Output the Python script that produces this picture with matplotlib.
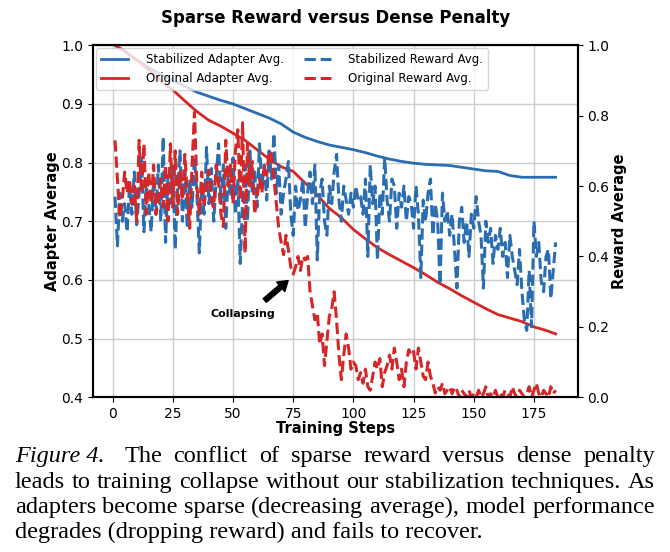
import numpy as np
import matplotlib.pyplot as plt

# training steps for the noisy reward curves (one value per step)
steps = np.arange(1, 185)

# stabilized reward avg (right axis)
stab_reward = [
    0.57, 0.43, 0.58, 0.50, 0.55, 0.47, 0.60, 0.52, 0.64, 0.49,
    0.58, 0.68, 0.47, 0.60, 0.55, 0.47, 0.62, 0.52, 0.66, 0.50,
    0.74, 0.44, 0.63, 0.55, 0.66, 0.42, 0.60, 0.70, 0.50, 0.64,
    0.48, 0.62, 0.54, 0.68, 0.58, 0.41, 0.60, 0.52, 0.71, 0.55,
    0.65, 0.50, 0.62, 0.72, 0.55, 0.66, 0.48, 0.63, 0.57, 0.68,
    0.52, 0.62, 0.38, 0.56, 0.66, 0.50, 0.70, 0.58, 0.64, 0.54,
    0.72, 0.60, 0.66, 0.56, 0.70, 0.62, 0.75, 0.58, 0.66, 0.52,
    0.58, 0.62, 0.67, 0.52, 0.46, 0.60, 0.53, 0.56, 0.62, 0.48,
    0.58, 0.64, 0.55, 0.66, 0.39, 0.58, 0.62, 0.50, 0.46, 0.60,
    0.55, 0.64, 0.69, 0.56, 0.50, 0.60, 0.56, 0.52, 0.58, 0.54,
    0.60, 0.56, 0.57, 0.52, 0.62, 0.40, 0.66, 0.55, 0.60, 0.39,
    0.58, 0.52, 0.68, 0.56, 0.50, 0.62, 0.60, 0.48, 0.58, 0.54,
    0.60, 0.50, 0.57, 0.55, 0.48, 0.60, 0.52, 0.34, 0.56, 0.50,
    0.58, 0.62, 0.46, 0.55, 0.50, 0.32, 0.58, 0.50, 0.53, 0.46,
    0.52, 0.42, 0.31, 0.50, 0.54, 0.44, 0.50, 0.40, 0.52, 0.48,
    0.57, 0.50, 0.46, 0.31, 0.50, 0.44, 0.48, 0.38, 0.46, 0.42,
    0.48, 0.40, 0.44, 0.34, 0.46, 0.40, 0.36, 0.32, 0.42, 0.30,
    0.22, 0.19, 0.36, 0.20, 0.50, 0.40, 0.44, 0.33, 0.30, 0.40,
    0.42, 0.28, 0.36, 0.44,
]

# original reward avg (right axis)
orig_reward = [
    0.73, 0.62, 0.51, 0.56, 0.64, 0.58, 0.62, 0.55, 0.60, 0.50,
    0.73, 0.58, 0.72, 0.52, 0.64, 0.55, 0.66, 0.52, 0.56, 0.62,
    0.54, 0.66, 0.50, 0.72, 0.54, 0.70, 0.52, 0.64, 0.56, 0.69,
    0.58, 0.48, 0.66, 0.81, 0.60, 0.52, 0.64, 0.55, 0.60, 0.645,
    0.56, 0.54, 0.66, 0.61, 0.52, 0.485, 0.73, 0.60, 0.66, 0.55,
    0.70, 0.76, 0.56, 0.78, 0.41, 0.72, 0.60, 0.67, 0.52, 0.57,
    0.62, 0.58, 0.66, 0.63, 0.70, 0.69, 0.62, 0.55, 0.48, 0.44,
    0.405, 0.46, 0.42, 0.37, 0.35, 0.37, 0.40, 0.36, 0.40, 0.39,
    0.40, 0.30, 0.26, 0.22, 0.24, 0.15, 0.18, 0.09, 0.16, 0.23,
    0.25, 0.30, 0.22, 0.12, 0.05, 0.12, 0.18, 0.14, 0.08, 0.10,
    0.09, 0.05, 0.07, 0.04, 0.08, 0.03, 0.02, 0.06, 0.10, 0.08,
    0.11, 0.03, 0.07, 0.09, 0.12, 0.08, 0.14, 0.10, 0.05, 0.08,
    0.03, 0.10, 0.135, 0.12, 0.13, 0.08, 0.14, 0.10, 0.06, 0.05,
    0.10, 0.06, 0.04, 0.012, 0.03, 0.02, 0.04, 0.01, 0.02, 0.03,
    0.01, 0.03, 0.02, 0.00, 0.02, 0.01, 0.00, 0.02, 0.00, 0.01,
    0.00, 0.02, 0.00, 0.01, 0.03, 0.00, 0.01, 0.00, 0.02, 0.00,
    0.01, 0.00, 0.02, 0.01, 0.00, 0.03, 0.01, 0.00, 0.02, 0.01,
    0.00, 0.01, 0.03, 0.00, 0.02, 0.04, 0.01, 0.00, 0.02, 0.01,
    0.00, 0.03, 0.01, 0.02,
]

# adapter averages (left axis), read every 5 steps
adapter_steps = [1, 5, 10, 15, 20, 25, 30, 35, 40, 45, 50, 55, 60, 65, 70, 75, 80, 85, 90,
                 95, 100, 105, 110, 115, 120, 125, 130, 135, 140, 145, 150, 155, 160, 165,
                 170, 175, 180, 184]
stab_adapter = [1.0, 0.99, 0.975, 0.962, 0.950, 0.940, 0.930, 0.920, 0.913, 0.906, 0.900,
                0.892, 0.884, 0.876, 0.866, 0.852, 0.843, 0.836, 0.830, 0.826, 0.822, 0.817,
                0.811, 0.806, 0.802, 0.799, 0.797, 0.796, 0.795, 0.792, 0.789, 0.786, 0.785,
                0.778, 0.775, 0.775, 0.775, 0.775]
orig_adapter = [1.0, 0.99, 0.975, 0.958, 0.940, 0.924, 0.905, 0.887, 0.872, 0.862, 0.850,
                0.838, 0.822, 0.806, 0.793, 0.785, 0.765, 0.745, 0.722, 0.706, 0.686, 0.670,
                0.655, 0.643, 0.632, 0.621, 0.609, 0.596, 0.585, 0.573, 0.562, 0.551, 0.541,
                0.535, 0.529, 0.520, 0.514, 0.508]

blue = "#2a6db0"
red = "#d62728"

fig = plt.figure(figsize=(6.7, 5.52), dpi=100)
ax = fig.add_axes([0.1388, 0.2803, 0.7234, 0.6377])
ax2 = ax.twinx()

l1, = ax.plot(adapter_steps, stab_adapter, color=blue, lw=2, label="Stabilized Adapter Avg.")
l2, = ax.plot(adapter_steps, orig_adapter, color=red, lw=2, label="Original Adapter Avg.")
l3, = ax2.plot(steps, stab_reward, "--", color=blue, lw=2.2, label="Stabilized Reward Avg.")
l4, = ax2.plot(steps, orig_reward, "--", color=red, lw=2.2, label="Original Reward Avg.")

ax.set_ylim(0.4, 1.0)
ax2.set_ylim(0.0, 1.0)
ax.set_xticks([0, 25, 50, 75, 100, 125, 150, 175])
ax.grid(True, color="#cccccc", lw=1)
ax.set_axisbelow(True)
for a in (ax, ax2):
    a.tick_params(labelsize=10)
    for s in a.spines.values():
        s.set_linewidth(1.5)

ax.set_xlabel("Training Steps", fontsize=10.5, fontweight="bold", labelpad=0)
ax.set_ylabel("Adapter Average", fontsize=10.5, fontweight="bold", labelpad=1)
ax2.set_ylabel("Reward Average", fontsize=10.5, fontweight="bold", labelpad=2)
ax.set_title("Sparse Reward versus Dense Penalty", fontsize=12, fontweight="bold", pad=16)

ax2.legend(handles=[l1, l2, l3, l4], ncol=2, loc="upper left", fontsize=8.5,
           borderaxespad=0.25, handlelength=2.3, handletextpad=1.5, columnspacing=1.7)

# arrow and label for the collapse point
ax.annotate("", xy=(72.9, 0.599), xytext=(63.2, 0.565),
            arrowprops=dict(facecolor="black", edgecolor="black", shrink=0,
                            width=3.5, headwidth=9, headlength=7))
ax.text(54, 0.542, "Collapsing", fontsize=8, fontweight="bold", ha="center", va="center")

# caption, justified line by line
W, H = 670, 552
caption = [
    [("Figure 4.", "italic"), ("The", "normal"), ("conflict", "normal"), ("of", "normal"),
     ("sparse", "normal"), ("reward", "normal"), ("versus", "normal"), ("dense", "normal"),
     ("penalty", "normal")],
    [(w, "normal") for w in "leads to training collapse without our stabilization techniques. As".split()],
    [(w, "normal") for w in "adapters become sparse (decreasing average), model performance".split()],
]
last_line = "degrades (dropping reward) and fails to recover."
baselines = [462, 488, 513, 538]
x0, x1 = 15, 655
renderer = fig.canvas.get_renderer()
for words, yb in zip(caption, baselines):
    texts = [fig.text(0, 1 - yb / H, w, fontsize=17.5, family="Liberation Serif", style=st,
                      va="baseline") for w, st in words]
    widths = [t.get_window_extent(renderer).width for t in texts]
    extra = 8 if words[0][0] == "Figure 4." else 0
    gap = (x1 - x0 - sum(widths) - extra) / (len(texts) - 1)
    x = x0
    for i, (t, w) in enumerate(zip(texts, widths)):
        t.set_x(x / W)
        x += w + gap + (extra if i == 0 else 0)
fig.text(x0 / W, 1 - baselines[3] / H, last_line, fontsize=17.5, family="Liberation Serif",
         va="baseline")

fig.savefig("out.png", dpi=100)
